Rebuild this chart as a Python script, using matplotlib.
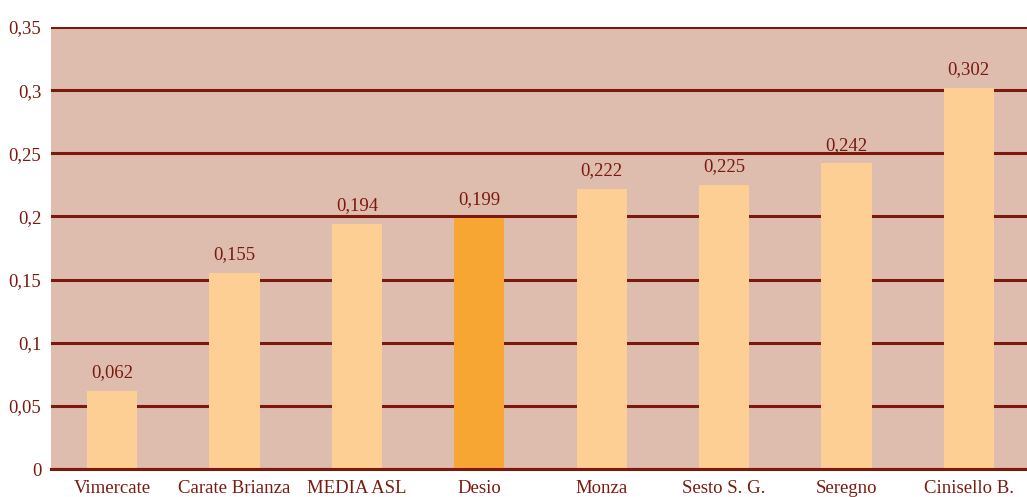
import matplotlib
matplotlib.use("Agg")
import matplotlib.pyplot as plt
from matplotlib.ticker import FixedLocator

categories = ["Vimercate", "Carate Brianza", "MEDIA ASL", "Desio", "Monza",
              "Sesto S. G.", "Seregno", "Cinisello B."]
values = [0.062, 0.155, 0.194, 0.199, 0.222, 0.225, 0.242, 0.302]
yticks = [0, 0.05, 0.1, 0.15, 0.2, 0.25, 0.3, 0.35]
ytick_labels = ["0", "0,05", "0,1", "0,15", "0,2", "0,25", "0,3", "0,35"]
highlight = "Desio"

plt.rcParams['font.family'] = ['Liberation Serif', 'DejaVu Serif']

text_color = "#7A1A10"
grid_color = "#7B1A0C"
bg_color = "#DEBDAE"
bar_color = "#FDCF94"
hl_color = "#F8A633"

fig = plt.figure(figsize=(10.27, 4.97), dpi=100)
ax = fig.add_axes([51/1027, (497-469)/497, (1030-51)/1027, (469-27)/497])
ax.set_facecolor(bg_color)

x = list(range(len(categories)))
colors = [hl_color if c == highlight else bar_color for c in categories]
ax.bar(x, values, width=0.41, color=colors, zorder=3)

for xi, v in zip(x, values):
    ax.annotate(f"{v:.3f}".replace(".", ","), (xi, v), xytext=(0, 7),
                textcoords="offset points", ha="center", va="bottom",
                fontsize=13.5, color=text_color, zorder=4)

ax.set_xlim(-0.5, len(categories) - 0.5)
ax.set_ylim(0, 0.35)
ax.yaxis.set_major_locator(FixedLocator(yticks))
ax.set_yticklabels(ytick_labels, fontsize=13.5, color=text_color)
ax.set_xticks(x)
ax.set_xticklabels(categories, fontsize=13.5, color=text_color)
ax.tick_params(axis='both', length=0)
ax.tick_params(axis='y', pad=7)
ax.tick_params(axis='x', pad=8)

ax.grid(axis='y', color=grid_color, linewidth=2.2, zorder=1)
ax.set_axisbelow(True)
for s in ["left", "right", "top"]:
    ax.spines[s].set_visible(False)
ax.spines["bottom"].set_color(grid_color)
ax.spines["bottom"].set_linewidth(2.2)
ax.spines["bottom"].set_zorder(5)

fig.savefig("out.png", dpi=100)
